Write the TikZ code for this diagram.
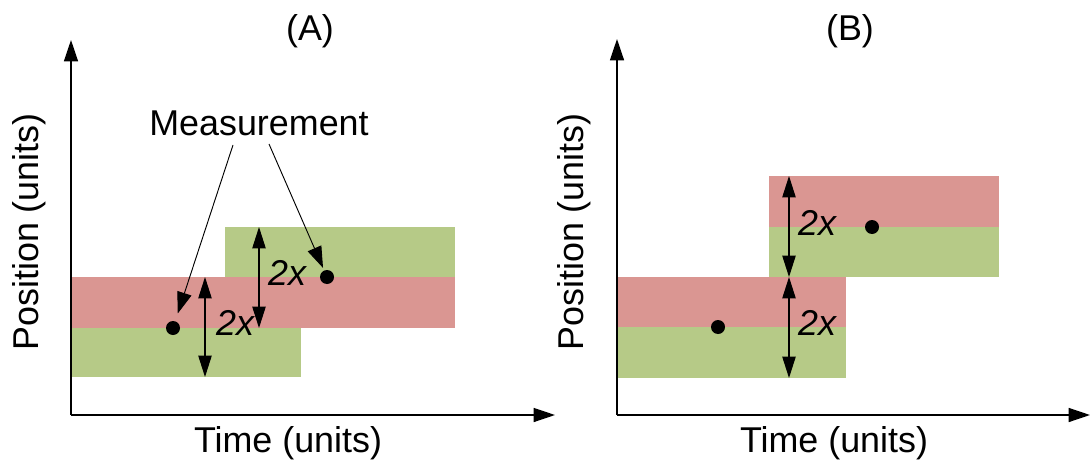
\documentclass[tikz,border=0pt]{standalone}
\usepackage{fontspec}
\setmainfont{Liberation Sans}
\usetikzlibrary{arrows.meta}
\definecolor{bandred}{RGB}{218,150,146}
\definecolor{bandgreen}{RGB}{182,202,135}
\tikzset{
  lbl/.style={font=\fontsize{26.9}{30}\selectfont, inner sep=0pt, anchor=base},
  ilbl/.style={font=\fontsize{26.9}{30}\selectfont\itshape, inner sep=0pt, anchor=base},
  axis/.style={line width=1.1pt, -{Triangle[length=16pt,width=10.5pt]}},
  dimarrow/.style={line width=0.9pt, {Triangle[length=16pt,width=10pt]}-{Triangle[length=16pt,width=10pt]}},
  pointer/.style={line width=0.7pt, -{Triangle[length=16pt,width=11pt]}},
  dot/.style={circle, fill=black, inner sep=0pt, minimum size=10.5pt},
  redband/.style={fill=bandred, draw=none},
  greenband/.style={fill=bandgreen, draw=none}
}
\begin{document}
\begin{tikzpicture}[x=0.75pt,y=-0.75pt]
\useasboundingbox (0,0) rectangle (1092,460);

% ---------------- Panel A ----------------
\fill[greenband] (225,227) rectangle (455,277);
\fill[redband] (225,277) rectangle (455,328);
\fill[redband] (71,277) rectangle (301,328);
\fill[greenband] (71,328) rectangle (301,377);

\coordinate (oA) at (71,415);
\coordinate (yA) at (71,40);
\coordinate (xA) at (555,415);
\draw[axis] (oA) -- (yA);
\draw[axis] (oA) -- (xA);

\node[lbl] (titleA) at (310,41) {(A)};
\node[lbl] (timeA) at (288,452) {Time (units)};
\node[lbl, rotate=90] (posA) at (38,232) {Position (units)};

\coordinate (a1t) at (205,277);
\coordinate (a1b) at (205,377);
\draw[dimarrow] (a1t) -- (a1b);
\coordinate (a2t) at (259,227);
\coordinate (a2b) at (259,328);
\draw[dimarrow] (a2t) -- (a2b);
\node[ilbl] (xA1) at (235,335) {2x};
\node[ilbl] (xA2) at (287,285) {2x};

\node[dot] (dA1) at (173,328) {};
\node[dot] (dA2) at (327,277) {};

\node[lbl] (meas) at (259,135) {Measurement};
\coordinate (m1) at (233,145);
\coordinate (m2) at (269,144);
\draw[pointer, shorten >=6pt] (m1) -- (dA1);
\draw[pointer, shorten >=2pt] (m2) -- (dA2);

% ---------------- Panel B ----------------
\fill[redband] (769,176) rectangle (999,227);
\fill[greenband] (769,227) rectangle (999,277);
\fill[redband] (616,277) rectangle (846,327);
\fill[greenband] (616,327) rectangle (846,378);

\coordinate (oB) at (617,415);
\coordinate (yB) at (617,39);
\coordinate (xB) at (1090,415);
\draw[axis] (oB) -- (yB);
\draw[axis] (oB) -- (xB);

\node[lbl] (titleB) at (850,41) {(B)};
\node[lbl] (timeB) at (834,452) {Time (units)};
\node[lbl, rotate=90] (posB) at (583,232) {Position (units)};

\coordinate (b1t) at (789,176);
\coordinate (b1b) at (789,277);
\draw[dimarrow] (b1t) -- (b1b);
\coordinate (b2t) at (789,277);
\coordinate (b2b) at (789,378);
\draw[dimarrow] (b2t) -- (b2b);
\node[ilbl] (xB1) at (817,235) {2x};
\node[ilbl] (xB2) at (817,335) {2x};

\node[dot] (dB1) at (718,327) {};
\node[dot] (dB2) at (872,227) {};
\end{tikzpicture}
\end{document}
